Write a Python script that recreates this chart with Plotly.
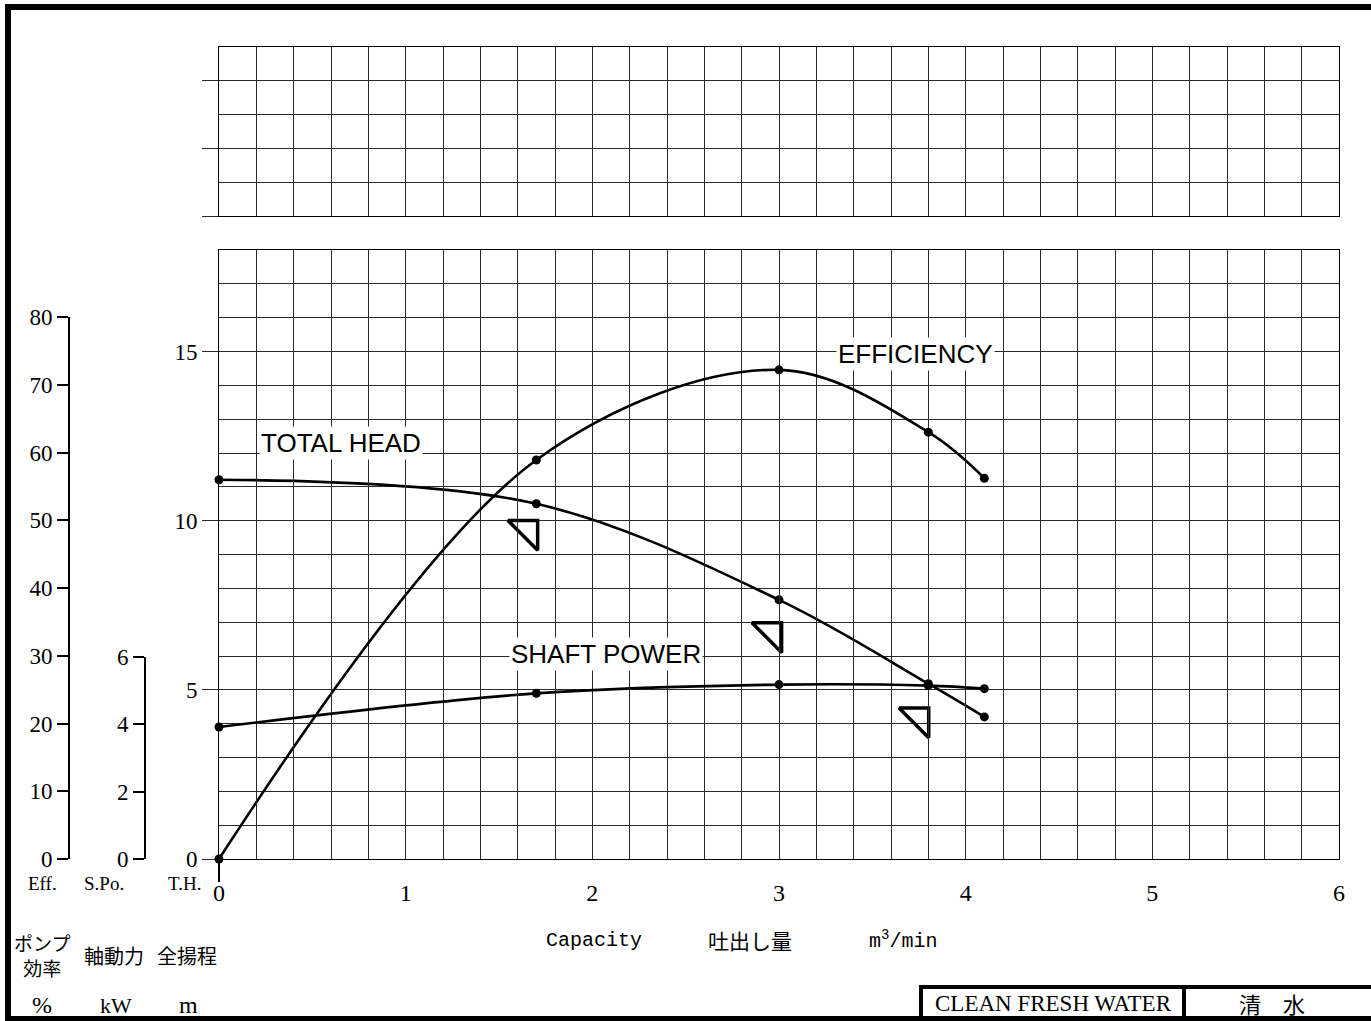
import plotly.graph_objects as go

# ---- data ----
capacity = [0.0, 1.7, 3.0, 3.8, 4.1]            # m3/min
total_head = [11.21, 10.50, 7.66, 5.18, 4.20]    # m
efficiency = [0.0, 58.9, 72.2, 63.0, 56.2]       # %
shaft_power = [3.92, 4.92, 5.18, 5.15, 5.06]     # kW

mark_capacity = [1.654, 2.961, 3.749]            # triangle markers
mark_head = [9.71, 6.69, 4.17]

x_ticks = [0, 1, 2, 3, 4, 5, 6]
th_ticks = [0, 5, 10, 15]
eff_ticks = [0, 10, 20, 30, 40, 50, 60, 70, 80]
spo_ticks = [0, 2, 4, 6]

W, H = 1371, 1021
def px(x):
    return x / W
def py(y):
    return 1 - y / H

SERIF = "Liberation Serif"
MONO = "Liberation Mono"
SANS = "Liberation Sans"
CJK = "Noto Sans CJK JP"
GRID = "#2a2a2a"

xdom = [px(219), px(1339)]
main_dom = [py(859), py(250)]
top_dom = [py(216), py(47)]
eff_dom = [py(859), py(317)]
spo_dom = [py(859), py(657)]

fig = go.Figure()

line_style = dict(color="black", width=2.6, shape="spline", smoothing=1.0)
mk = dict(color="black", size=9)

fig.add_trace(go.Scatter(x=capacity, y=total_head, mode="lines+markers",
                         line=line_style, marker=mk, xaxis="x", yaxis="y",
                         name="TOTAL HEAD", cliponaxis=False))
fig.add_trace(go.Scatter(x=capacity, y=efficiency, mode="lines+markers",
                         line=line_style, marker=mk, xaxis="x", yaxis="y3",
                         name="EFFICIENCY", cliponaxis=False))
fig.add_trace(go.Scatter(x=capacity, y=shaft_power, mode="lines+markers",
                         line=line_style, marker=mk, xaxis="x", yaxis="y4",
                         name="SHAFT POWER", cliponaxis=False))
fig.add_trace(go.Scatter(x=mark_capacity, y=mark_head, mode="markers",
                         marker=dict(symbol="triangle-ne-open", size=33,
                                     color="black", line=dict(color="black", width=3.5)),
                         xaxis="x", yaxis="y", cliponaxis=False))
# empty trace that creates the upper grid subplot
fig.add_trace(go.Scatter(x=[0], y=[0], mode="markers", marker=dict(opacity=0),
                         xaxis="x2", yaxis="y2", showlegend=False, hoverinfo="skip"))

grid_common = dict(showgrid=True, gridcolor=GRID, gridwidth=1, zeroline=False,
                   showline=True, linecolor="black", linewidth=1, mirror=True,
                   automargin=False)

fig.update_layout(
    template="none",
    width=W, height=H,
    margin=dict(l=0, r=0, t=0, b=0, autoexpand=False),
    paper_bgcolor="white",
    plot_bgcolor="rgba(0,0,0,0)",
    showlegend=False,
    xaxis=dict(domain=xdom, range=[0, 6], anchor="y", tickvals=x_ticks,
               ticks="", ticklabelstandoff=12,
               tickfont=dict(family=SERIF, size=24, color="black"),
               minor=dict(dtick=0.2, showgrid=True, gridcolor=GRID, gridwidth=1),
               **grid_common),
    yaxis=dict(domain=main_dom, range=[0, 18], anchor="x", tickvals=th_ticks,
               ticks="outside", ticklen=16, tickcolor=GRID, tickwidth=1,
               tickfont=dict(family=SERIF, size=23, color="black"),
               minor=dict(dtick=1, showgrid=True, gridcolor=GRID, gridwidth=1),
               **grid_common),
    xaxis2=dict(domain=xdom, range=[0, 6], anchor="y2", dtick=1,
                showticklabels=False, ticks="",
                minor=dict(dtick=0.2, showgrid=True, gridcolor=GRID, gridwidth=1),
                **grid_common),
    yaxis2=dict(domain=top_dom, range=[0, 5], anchor="x2", tickvals=[0, 2, 4],
                ticks="outside", ticklen=16, tickcolor=GRID, tickwidth=1,
                showticklabels=False,
                minor=dict(dtick=1, showgrid=True, gridcolor=GRID, gridwidth=1),
                **grid_common),
    yaxis3=dict(domain=eff_dom, range=[0, 80], anchor="free", position=px(69),
                side="left", tickvals=eff_ticks, ticks="outside", ticklen=11,
                tickwidth=2, tickcolor="black", showgrid=False, zeroline=False,
                showline=True, linecolor="black", linewidth=2, automargin=False,
                tickfont=dict(family=SERIF, size=23, color="black")),
    yaxis4=dict(domain=spo_dom, range=[0, 6], anchor="free", position=px(145),
                side="left", tickvals=spo_ticks, ticks="outside", ticklen=11,
                tickwidth=2, tickcolor="black", showgrid=False, zeroline=False,
                showline=True, linecolor="black", linewidth=2, automargin=False,
                tickfont=dict(family=SERIF, size=23, color="black")),
)

# curve labels
for txt, xv, yv in [("TOTAL HEAD", 0.656, 12.31), ("EFFICIENCY", 3.731, 14.94),
                    ("SHAFT POWER", 2.073, 6.07)]:
    fig.add_annotation(x=xv, y=yv, xref="x", yref="y", text=txt, showarrow=False,
                       font=dict(family=SANS, size=26, color="black"),
                       bgcolor="white", borderpad=1)

def ptext(txt, x, y, fam, size):
    fig.add_annotation(x=px(x), y=py(y), xref="paper", yref="paper", text=txt,
                       showarrow=False, xanchor="center", yanchor="middle",
                       font=dict(family=fam, size=size, color="black"))

ptext("Eff.", 42, 883, SERIF, 19)
ptext("S.Po.", 104, 883, SERIF, 19)
ptext("T.H.", 184, 883, SERIF, 19)
ptext("ポンプ<br>効率", 42, 955, CJK, 19)
ptext("軸動力", 114, 955, CJK, 20)
ptext("全揚程", 187, 955, CJK, 20)
ptext("%", 42, 1005, SERIF, 24)
ptext("kW", 116, 1005, SERIF, 22)
ptext("m", 188, 1005, SERIF, 24)
ptext("Capacity", 594, 940, MONO, 20)
ptext("吐出し量", 750, 940, CJK, 21)
ptext("m<sup>3</sup>/min", 903, 940, MONO, 20)
ptext("CLEAN FRESH WATER", 1053, 1003, SERIF, 23)
ptext("清　水", 1272, 1003, CJK, 22)

# T.H. axis stub below the origin
fig.add_shape(type="line", xref="paper", yref="paper",
              x0=px(219), x1=px(219), y0=py(859), y1=py(882),
              line=dict(color="black", width=2))
# outer frame and title block
fig.add_shape(type="rect", xref="paper", yref="paper",
              x0=px(8), x1=px(1390), y0=py(1019), y1=py(7),
              line=dict(color="black", width=6), fillcolor="rgba(0,0,0,0)")
fig.add_shape(type="rect", xref="paper", yref="paper",
              x0=px(921), x1=px(1390), y0=py(1019), y1=py(987),
              line=dict(color="black", width=4), fillcolor="rgba(0,0,0,0)")
fig.add_shape(type="line", xref="paper", yref="paper",
              x0=px(1184), x1=px(1184), y0=py(1019), y1=py(987),
              line=dict(color="black", width=4))

fig.write_html("out.html", config={"displayModeBar": False},
               post_script="document.body.style.margin='0';"
                           "document.body.style.overflow='hidden';")
